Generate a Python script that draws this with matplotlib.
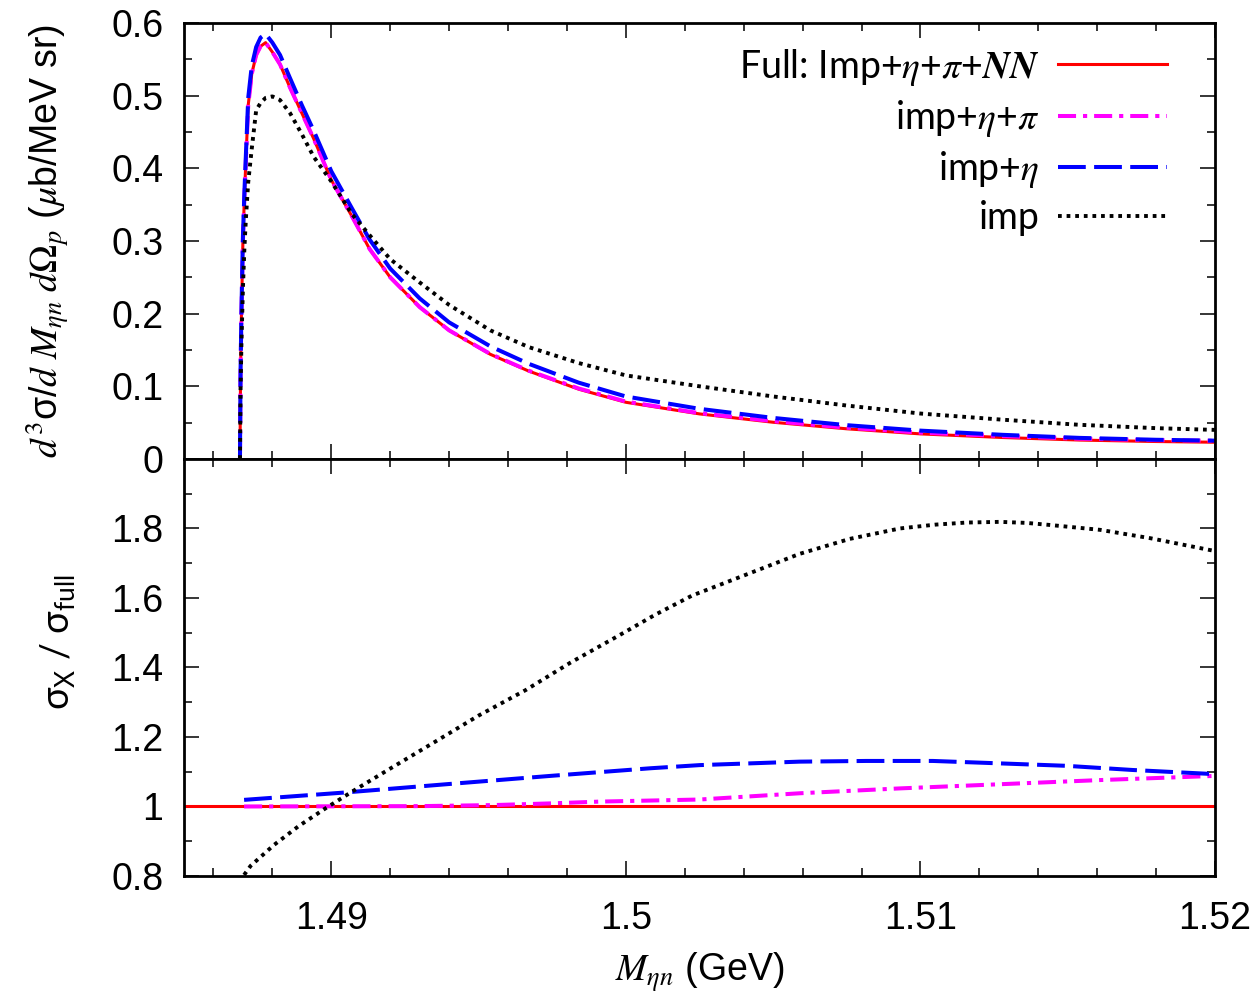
import matplotlib
matplotlib.use('Agg')
import matplotlib.pyplot as plt
from matplotlib.ticker import MultipleLocator, FuncFormatter

plt.rcParams['lines.scale_dashes'] = False
plt.rcParams['font.family'] = ['Liberation Sans', 'DejaVu Sans']
plt.rcParams['mathtext.fontset'] = 'stix'
plt.rcParams['mathtext.rm'] = 'Lato'
plt.rcParams['mathtext.it'] = 'Lato:italic'
plt.rcParams['mathtext.bf'] = 'Lato:bold'
plt.rcParams['mathtext.sf'] = 'Lato'

# ---------------- data ----------------
# top panel: d^3 sigma / dM dOmega  (mu b / MeV sr)
m_top = [1.4869, 1.48692, 1.48695, 1.4870, 1.48705, 1.4871, 1.48718, 1.4873,
         1.48745, 1.4876, 1.48777, 1.4880, 1.48826, 1.4886, 1.4890, 1.4894,
         1.4900, 1.4907, 1.4913, 1.4920, 1.4930, 1.4940, 1.4954, 1.4967,
         1.4984, 1.5000, 1.5025, 1.5050, 1.5075, 1.5100, 1.5128, 1.5154,
         1.5180, 1.5200]
xs_full = [0.0, 0.12, 0.20, 0.30, 0.36, 0.41, 0.487, 0.530,
           0.556, 0.568, 0.573, 0.560, 0.543, 0.511, 0.476, 0.441,
           0.384, 0.334, 0.289, 0.250, 0.209, 0.177, 0.144, 0.121,
           0.096, 0.078, 0.062, 0.0505, 0.0415, 0.0345, 0.0295, 0.026,
           0.024, 0.023]
xs_imp_eta_pi = [0.0, 0.12, 0.20, 0.30, 0.36, 0.41, 0.487, 0.530,
                 0.556, 0.568, 0.573, 0.560, 0.543, 0.511, 0.476, 0.441,
                 0.384, 0.334, 0.289, 0.250, 0.209, 0.177, 0.1445, 0.1215,
                 0.097, 0.079, 0.063, 0.052, 0.043, 0.0362, 0.0314, 0.0279,
                 0.0259, 0.025]
xs_imp_eta = [0.0, 0.122, 0.204, 0.306, 0.367, 0.418, 0.497, 0.541,
              0.567, 0.580, 0.585, 0.573, 0.556, 0.524, 0.487, 0.452,
              0.396, 0.345, 0.302, 0.262, 0.221, 0.188, 0.155, 0.131,
              0.105, 0.086, 0.069, 0.0565, 0.0465, 0.039, 0.0332, 0.029,
              0.0264, 0.0252]
xs_imp = [0.0, 0.095, 0.16, 0.235, 0.29, 0.33, 0.381, 0.427,
          0.480, 0.490, 0.497, 0.499, 0.494, 0.476, 0.447, 0.416,
          0.382, 0.337, 0.308, 0.275, 0.243, 0.212, 0.177, 0.154,
          0.132, 0.115, 0.100, 0.086, 0.0735, 0.0625, 0.054, 0.047,
          0.0424, 0.040]

# bottom panel: ratios sigma_X / sigma_full
r_full_m = [1.485, 1.52]
r_full = [1.0, 1.0]
r_imp_m = [1.48704, 1.48726, 1.48805, 1.4889, 1.48981, 1.49071, 1.49196,
           1.49348, 1.49501, 1.4966, 1.49812, 1.4997, 1.5010, 1.50225,
           1.5042, 1.5059, 1.5076, 1.5093, 1.5105, 1.51156, 1.5127,
           1.5136, 1.5144, 1.5161, 1.5178, 1.5200]
r_imp = [0.803, 0.829, 0.889, 0.944, 0.995, 1.043, 1.107,
         1.184, 1.262, 1.335, 1.414, 1.489, 1.552, 1.607,
         1.671, 1.727, 1.770, 1.800, 1.811, 1.817, 1.819,
         1.816, 1.810, 1.796, 1.772, 1.735]
r_eta_m = [1.48704, 1.49043, 1.49405, 1.49744, 1.50084, 1.5025, 1.5059,
           1.50816, 1.51042, 1.5127, 1.51495, 1.5172, 1.5200]
r_eta = [1.019, 1.040, 1.065, 1.088, 1.110, 1.119, 1.129,
         1.131, 1.131, 1.124, 1.117, 1.105, 1.093]
r_pi_m = [1.48704, 1.4930, 1.4955, 1.4975, 1.4991, 1.5025, 1.5059,
          1.5093, 1.5127, 1.5161, 1.5200]
r_pi = [1.0, 1.001, 1.004, 1.009, 1.014, 1.020, 1.038,
        1.052, 1.064, 1.076, 1.088]

legend_labels = [r'Full: Imp+$\eta$+$\pi$+$\mathbfit{NN}$',
                 r'imp+$\eta$+$\pi$', r'imp+$\eta$', 'imp']

# ---------------- styles ----------------
st_full = dict(color='#ff0000', lw=2.2, linestyle='-')
st_pi = dict(color='#ff00ff', lw=2.9, linestyle=(0, (13, 5, 3, 5)))
st_eta = dict(color='#0000ff', lw=2.9, linestyle=(0, (20, 6)))
st_imp = dict(color='black', lw=2.8, linestyle=(0, (2.7, 3.5)))

fig = plt.figure(figsize=(12.56, 10.01), dpi=100)
ax1 = fig.add_axes([0.1465, 0.5415, 0.8209, 0.4355])
ax2 = fig.add_axes([0.1465, 0.1249, 0.8209, 0.4166])

l1, = ax1.plot(m_top, xs_full, **st_full)
l2, = ax1.plot(m_top, xs_imp_eta_pi, **st_pi)
l3, = ax1.plot(m_top, xs_imp_eta, **st_eta)
l4, = ax1.plot(m_top, xs_imp, **st_imp)

ax2.plot(r_full_m, r_full, **st_full)
ax2.plot(r_pi_m, r_pi, **st_pi)
ax2.plot(r_eta_m, r_eta, **st_eta)
ax2.plot(r_imp_m, r_imp, **st_imp)

fmt = FuncFormatter(lambda v, p: '%g' % round(v, 4))
for ax in (ax1, ax2):
    ax.set_xlim(1.485, 1.52)
    ax.xaxis.set_major_locator(MultipleLocator(0.01))
    ax.xaxis.set_minor_locator(MultipleLocator(0.002))
    ax.xaxis.set_major_formatter(fmt)
    ax.yaxis.set_major_formatter(fmt)
    ax.tick_params(which='both', direction='in', top=True, right=True,
                   labelsize=27, width=1.1)
    ax.tick_params(which='major', length=11)
    ax.tick_params(axis='y', which='major', pad=15)
    ax.tick_params(which='minor', length=6)
    for s in ax.spines.values():
        s.set_linewidth(2.0)

ax1.set_ylim(0, 0.6)
ax1.yaxis.set_major_locator(MultipleLocator(0.1))
ax1.yaxis.set_minor_locator(MultipleLocator(0.05))
ax1.tick_params(labelbottom=False)

ax2.set_ylim(0.8, 2.0)
ax2.set_yticks([0.8, 1.0, 1.2, 1.4, 1.6, 1.8])
ax2.yaxis.set_minor_locator(MultipleLocator(0.1))
ax2.tick_params(axis='x', which='major', pad=18)

ax1.set_ylabel(r'$d^{3}$σ/$d\ M_{\eta n}\ d\Omega_p$ ($\mu$b/MeV sr)',
               fontsize=27)
ax1.yaxis.set_label_coords(-0.109, 0.5)

ax2.set_ylabel(r'$\mathrm{\sigma_X}$ / $\mathrm{\sigma_{full}}$', fontsize=27,
               family='Lato', math_fontfamily='custom')
ax2.yaxis.set_label_coords(-0.104, 0.56)

ax2.set_xlabel(r'$M_{\eta n}$ (GeV)', fontsize=27, labelpad=10)

leg = ax1.legend([l1, l2, l3, l4], legend_labels, loc='upper right',
                 bbox_to_anchor=(0.9534, 0.946), frameon=False,
                 markerfirst=False, handlelength=2.9, handletextpad=0.5,
                 labelspacing=0.27, borderpad=0, borderaxespad=0,
                 prop={'family': 'Lato', 'size': 27})

fig.savefig('out.png', dpi=100)
